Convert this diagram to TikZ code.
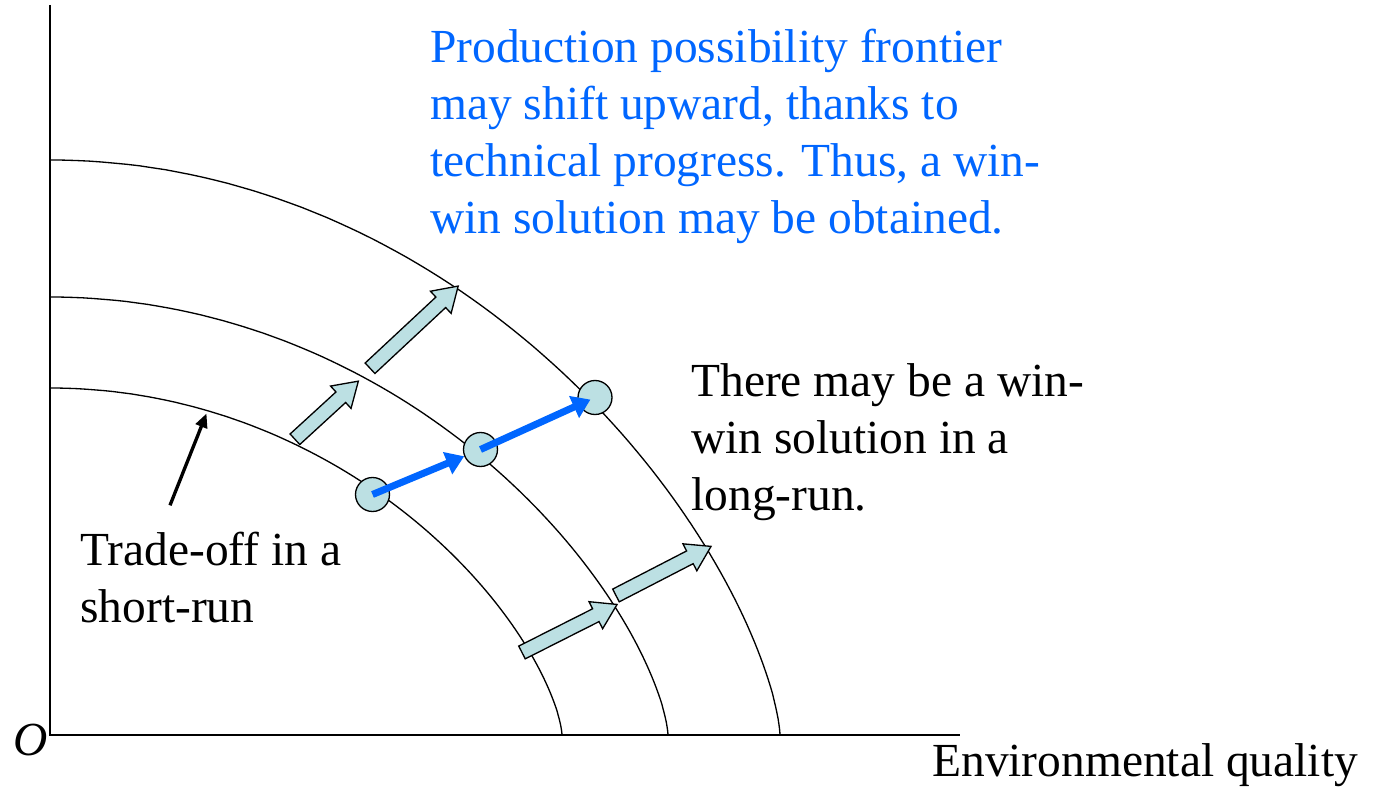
\documentclass[tikz,border=0pt]{standalone}
\usepackage{fontspec}
\setmainfont{Liberation Serif}
\usetikzlibrary{arrows.meta,shapes.arrows}
\definecolor{shiftcolor}{RGB}{188,224,227}
\definecolor{wincolor}{RGB}{0,102,255}

\begin{document}
\begin{tikzpicture}[every node/.style={font=\fontsize{27}{32.4}\selectfont}, axis/.style={line width=1.2pt}, frontier/.style={line width=0.75pt}, txt/.style={anchor=base west, align=left, inner sep=0pt}, shiftarrow/.style={single arrow, draw, fill=shiftcolor, line width=0.75pt, inner xsep=0pt, inner ysep=0.13cm, minimum width=0pt, single arrow head extend=0.16cm, single arrow tip angle=65}, pt/.style={circle, draw, fill=shiftcolor, line width=0.75pt, minimum size=0.68cm, inner sep=0pt}, winarrow/.style={wincolor, line width=4pt, -{Triangle[length=0.36cm,width=0.46cm]}}, pointer/.style={line width=1.9pt, -{Triangle[length=0.28cm,width=0.24cm]}}]
    \useasboundingbox (-1,-1.34) rectangle (26.46,14.7);
    \draw[axis] (0,14.6) -- (0,0) -- (18.2,0);
    \draw[frontier] plot[domain=0:89.9, samples=90] ({10.24*sin(\x)}, {6.94*pow(cos(\x),1.36)}) -- (10.24,0);
    \draw[frontier] plot[domain=0:89.9, samples=90] ({12.36*sin(\x)}, {8.76*pow(cos(\x),1.36)}) -- (12.36,0);
    \draw[frontier] plot[domain=0:89.9, samples=90] ({14.6*sin(\x)}, {11.5*pow(cos(\x),1.36)}) -- (14.6,0);
    \node[shiftarrow, minimum height=1.72cm, rotate=42.5] (up1) at (5.45,6.42) {};
    \node[shiftarrow, minimum height=2.41cm, rotate=43] (up2) at (7.2,8.08) {};
    \node[shiftarrow, minimum height=2.13cm, rotate=26.8] (lo1) at (10.29,2.08) {};
    \node[shiftarrow, minimum height=2.14cm, rotate=27.3] (lo2) at (12.17,3.23) {};
    \node[pt] (p1) at (6.45,4.81) {};
    \node[pt] (p2) at (8.61,5.71) {};
    \node[pt] (p3) at (10.9,6.75) {};
    \draw[winarrow] (p1.center) -- (p2);
    \draw[winarrow, shorten >=0.1cm] (p2.center) -- (p3.center);
    \node[txt, text=wincolor] (note) at (7.6,10.03) {Production possibility frontier\\may shift upward, thanks to\\technical progress. Thus, a win-\\win solution may be obtained.};
    \node[txt] (longrun) at (12.82,4.49) {There may be a win-\\win solution in a\\long-run.};
    \node[txt] (trade) at (0.6,2.26) {Trade-off in a\\short-run};
    \coordinate (tradept) at (3.13,6.43);
    \draw[pointer] ([xshift=1.8cm,yshift=0.52cm]trade.north west) -- (tradept);
    \node[txt] (origin) at (-0.74,-0.4) {\textit{O}};
    \node[txt] (envq) at (17.64,-0.82) {Environmental quality};
  \end{tikzpicture}
\end{document}
